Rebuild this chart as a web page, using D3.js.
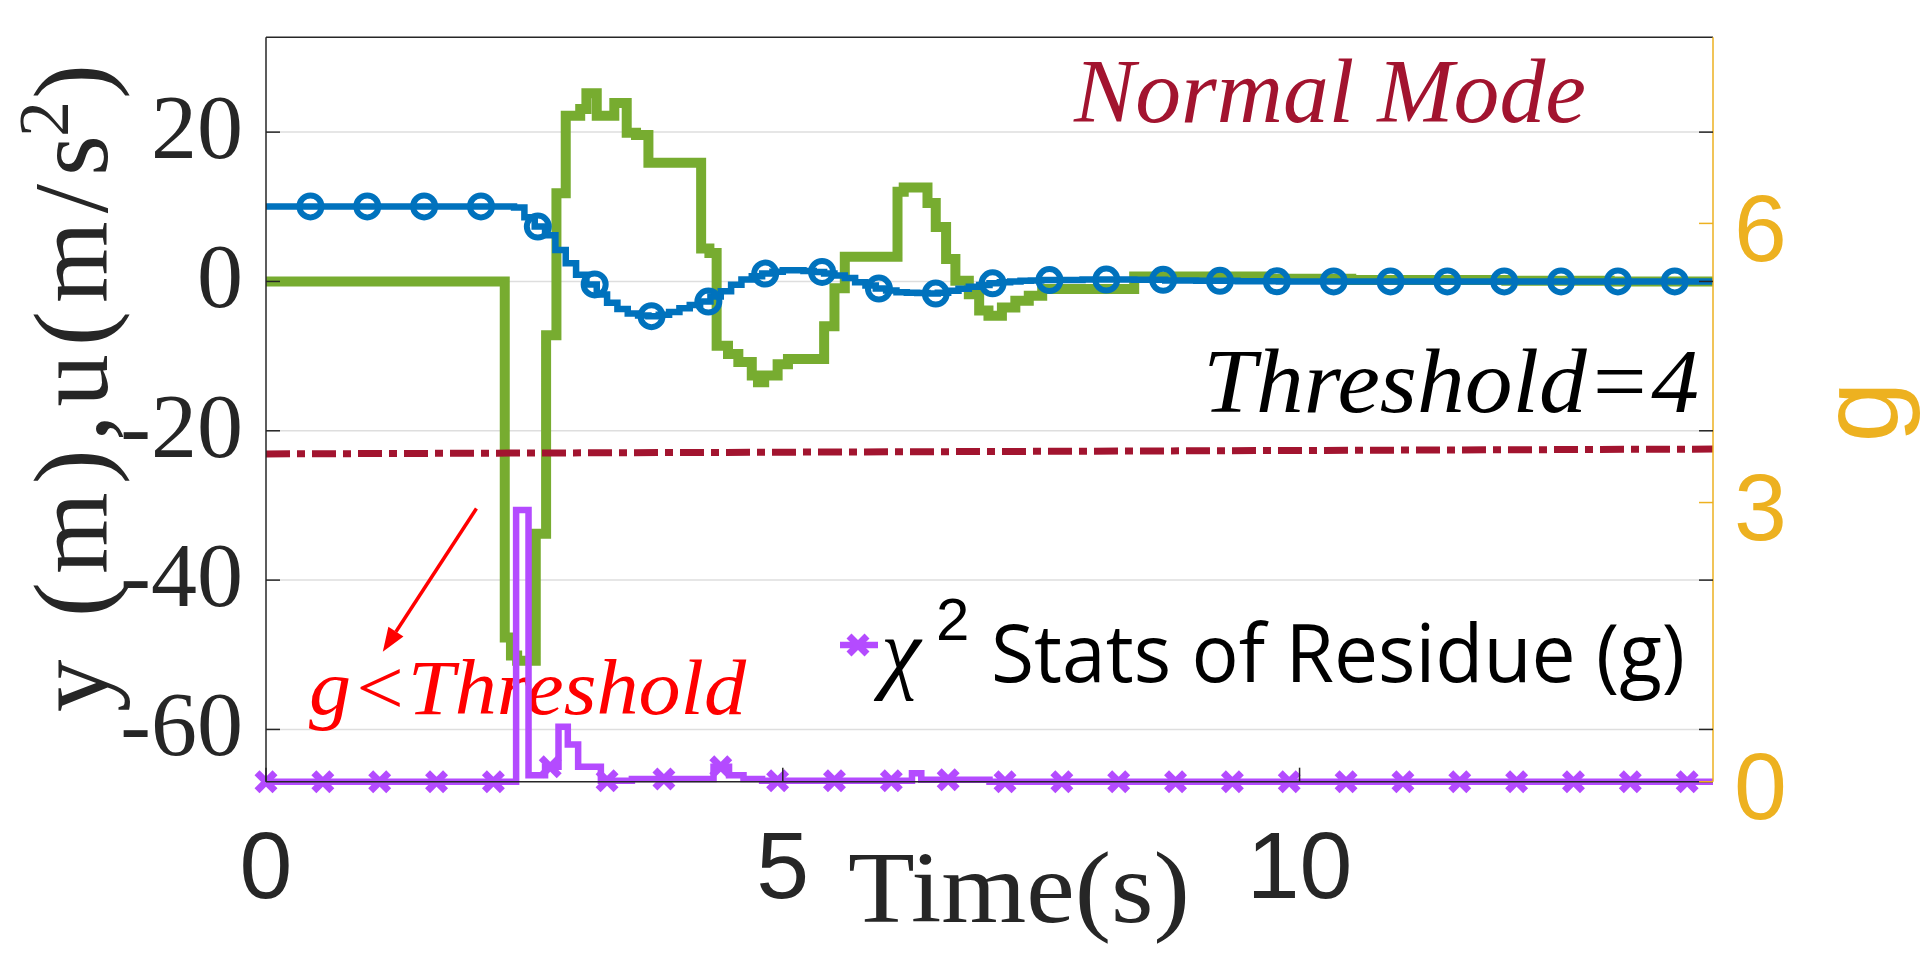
<!DOCTYPE html>
<html>
<head>
<meta charset="utf-8">
<script src="https://cdn.jsdelivr.net/npm/d3@7"></script>
<style>
  html, body { margin: 0; padding: 0; background: #fff; }
  svg { display: block; }
</style>
</head>
<body>
<svg id="chart" width="1920" height="955"></svg>
<script>
// ---------------- data ----------------
const xTicks = [0, 5, 10];
const leftTicks = [-60, -40, -20, 0, 20];
const rightTicks = [0, 3, 6];

// u (green) – control input, stairs: breakpoint times and values
const uT = [0, 2.31, 2.37, 2.43, 2.61, 2.71, 2.81, 2.9, 3.04, 3.1, 3.2, 3.37, 3.49, 3.58, 3.7, 4.21, 4.29, 4.36, 4.47, 4.57, 4.7, 4.76, 4.82, 4.95, 5.05, 5.4, 5.5, 5.6, 6.11, 6.17, 6.4, 6.48, 6.58, 6.67, 6.8, 6.9, 6.99, 7.12, 7.25, 7.38, 7.51, 8.4, 9.7, 10.5, 12, 13];
const uV = [0, -47.7, -50.1, -50.8, -33.8, -7.2, 11.8, 22.2, 23.1, 25.2, 22.2, 23.9, 19.9, 19.6, 15.9, 4.4, 3.8, -8.6, -9.7, -10.8, -12.6, -13.5, -12.6, -11.1, -10.4, -6.0, -0.9, 3.3, 12.0, 12.6, 10.5, 7.3, 3.0, 0.1, -1.7, -3.9, -4.6, -3.5, -2.6, -1.9, -1.0, 0.65, 0.35, 0.2, 0.1, 0];

// y (blue) – position, stairs
const yT = [0,2.4,2.5,2.6,2.7,2.8,2.9,3.0,3.1,3.2,3.3,3.4,3.5,3.6,3.7,3.8,3.9,4.0,4.1,4.2,4.3,4.4,4.5,4.6,4.7,4.8,4.9,5.0,5.2,5.3,5.4,5.5,5.6,5.7,5.8,5.9,6.0,6.1,6.2,6.3,6.4,6.5,6.6,6.7,6.8,6.9,7.0,7.1,7.2,7.3,7.4,7.5,7.6,7.9,8.4,8.7,9.0,9.4,9.8];
const yV = [10.05,9.9,8.6,7.35,6.2,4.2,2.45,0.9,-0.4,-1.75,-2.85,-3.7,-4.3,-4.55,-4.65,-4.45,-4.1,-3.6,-3.15,-2.7,-2.0,-1.3,-0.45,0.25,0.7,1.05,1.3,1.5,1.4,1.27,1.05,0.8,0.45,-0.1,-0.55,-0.95,-1.2,-1.44,-1.5,-1.56,-1.62,-1.5,-1.25,-0.97,-0.7,-0.47,-0.25,-0.1,0.0,0.1,0.13,0.18,0.2,0.25,0.22,0.13,0.08,0.02,0];
const yMarkerT = [0.43,0.98,1.53,2.08,2.63,3.18,3.73,4.28,4.83,5.38,5.93,6.48,7.03,7.58,8.13,8.68,9.23,9.78,10.33,10.88,11.43,11.98,12.53,13.08,13.63];

// g (purple) – chi-square statistic of residue, stairs (right axis)
const gT = [0, 2.42, 2.54, 2.70, 2.83, 2.92, 3.02, 3.24, 3.54, 4.33, 4.48, 4.62, 4.8, 6.25, 6.34, 7.0];
const gV = [0, 2.92, 0.07, 0.16, 0.59, 0.40, 0.16, 0.01, 0.03, 0.16, 0.07, 0.03, 0.01, 0.09, 0.02, 0.0];
const gMarkerT = [0,0.55,1.1,1.65,2.2,2.75,3.3,3.85,4.4,4.95,5.5,6.05,6.6,7.15,7.7,8.25,8.8,9.35,9.9,10.45,11.0,11.55,12.1,12.65,13.2,13.75];

// threshold line (left-axis units at t = 0 and t = 14)
const thresholdT = [0, 14];
const thresholdV = [-23.1, -22.45];

// annotation arrow (data units): from -> to
const arrowT = [2.036, 1.13];
const arrowV = [-30.4, -49.6];

const xDomain = [0, 14];
const leftDomain = [-67.0, 32.7];
const rightDomain = [0, 8];

// ---------------- layout ----------------
const L = 266, R = 1713, T = 37.3, B = 781.7;
const C = {
  blue: '#0072BD', green: '#77AC30', purple: '#B44BFF',
  red: '#A2142F', gold: '#EDB120', text: '#262626', grid: '#DEDEDE'
};

const svg = d3.select('#chart');
const x = d3.scaleLinear(xDomain, [L, R]);
const yL = d3.scaleLinear(leftDomain, [B, T]);
const yR = d3.scaleLinear(rightDomain, [B, T]);

function pts(Ts, Vs) {
  const p = Ts.map((t, i) => [t, Vs[i]]);
  p.push([xDomain[1], Vs[Vs.length - 1]]);
  return p;
}
function valAt(Ts, Vs, t) {
  const i = d3.bisectRight(Ts, t) - 1;
  return Vs[Math.max(0, i)];
}

// gridlines
svg.append('g').selectAll('line').data(leftTicks).join('line')
  .attr('x1', L).attr('x2', R)
  .attr('y1', d => yL(d)).attr('y2', d => yL(d))
  .attr('stroke', C.grid).attr('stroke-width', 1.5);

// annotation text (under lines)
svg.append('text').attr('x', 309).attr('y', 714)
  .attr('font-family', 'Liberation Serif').attr('font-style', 'italic')
  .attr('font-size', 78).attr('fill', '#FF0000')
  .attr('textLength', 437).attr('lengthAdjust', 'spacingAndGlyphs')
  .text('g<Threshold');

const stepL = d3.line().curve(d3.curveStepAfter).x(d => x(d[0])).y(d => yL(d[1]));
const stepR = d3.line().curve(d3.curveStepAfter).x(d => x(d[0])).y(d => yR(d[1]));

// green u
svg.append('path').attr('d', stepL(pts(uT, uV)))
  .attr('fill', 'none').attr('stroke', C.green).attr('stroke-width', 10)
  .attr('stroke-linejoin', 'miter');

// blue y
svg.append('path').attr('d', stepL(pts(yT, yV)))
  .attr('fill', 'none').attr('stroke', C.blue).attr('stroke-width', 6.5);
svg.append('g').selectAll('circle').data(yMarkerT).join('circle')
  .attr('cx', d => x(d)).attr('cy', d => yL(valAt(yT, yV, d)))
  .attr('r', 11).attr('fill', 'none').attr('stroke', C.blue).attr('stroke-width', 6);

// purple g
svg.append('path').attr('d', stepR(pts(gT, gV)))
  .attr('fill', 'none').attr('stroke', C.purple).attr('stroke-width', 6.5);
const xm = 9;
function xMarker(sel) {
  sel.append('path')
    .attr('d', `M${-xm},${-xm}L${xm},${xm}M${-xm},${xm}L${xm},${-xm}`)
    .attr('stroke', C.purple).attr('stroke-width', 7).attr('fill', 'none');
}
svg.append('g').selectAll('g').data(gMarkerT).join('g')
  .attr('transform', d => `translate(${x(d)},${yR(valAt(gT, gV, d))})`)
  .call(xMarker);

// threshold dash-dot
svg.append('line')
  .attr('x1', x(thresholdT[0])).attr('y1', yL(thresholdV[0]))
  .attr('x2', x(thresholdT[1])).attr('y2', yL(thresholdV[1]))
  .attr('stroke', C.red).attr('stroke-width', 7)
  .attr('stroke-dasharray', '24,7,8,7');

// arrow
{
  const x1 = x(arrowT[0]), y1 = yL(arrowV[0]), x2 = x(arrowT[1]), y2 = yL(arrowV[1]);
  const ang = Math.atan2(y2 - y1, x2 - x1);
  const hl = 24, hw = 9;
  const bx = x2 - hl * Math.cos(ang), by = y2 - hl * Math.sin(ang);
  svg.append('line').attr('x1', x1).attr('y1', y1).attr('x2', bx).attr('y2', by)
    .attr('stroke', '#FF0000').attr('stroke-width', 3.5);
  const px = -Math.sin(ang), py = Math.cos(ang);
  svg.append('path')
    .attr('d', `M${x2},${y2}L${bx + hw * px},${by + hw * py}L${bx - hw * px},${by - hw * py}Z`)
    .attr('fill', '#FF0000');
}

// axes frame
svg.append('line').attr('x1', L).attr('x2', R).attr('y1', T).attr('y2', T).attr('stroke', '#262626').attr('stroke-width', 1.5);
svg.append('line').attr('x1', L).attr('x2', R).attr('y1', B).attr('y2', B).attr('stroke', '#262626').attr('stroke-width', 1.5);
svg.append('line').attr('x1', L).attr('x2', L).attr('y1', T).attr('y2', B).attr('stroke', '#262626').attr('stroke-width', 1.5);
svg.append('line').attr('x1', R).attr('x2', R).attr('y1', T).attr('y2', B).attr('stroke', C.gold).attr('stroke-width', 1.5);

// ticks
const tk = 14;
svg.append('g').selectAll('line').data(leftTicks).join('line')
  .attr('x1', L).attr('x2', L + tk).attr('y1', d => yL(d)).attr('y2', d => yL(d))
  .attr('stroke', '#262626').attr('stroke-width', 1.5);
svg.append('g').selectAll('line').data(leftTicks).join('line')
  .attr('x1', R).attr('x2', R - tk).attr('y1', d => yL(d)).attr('y2', d => yL(d))
  .attr('stroke', '#262626').attr('stroke-width', 1.5);
svg.append('g').selectAll('line').data(rightTicks).join('line')
  .attr('x1', R).attr('x2', R - tk).attr('y1', d => yR(d)).attr('y2', d => yR(d))
  .attr('stroke', C.gold).attr('stroke-width', 1.5);
svg.append('g').selectAll('line').data(xTicks).join('line')
  .attr('x1', d => x(d)).attr('x2', d => x(d)).attr('y1', B).attr('y2', B - tk)
  .attr('stroke', '#262626').attr('stroke-width', 1.5);

// tick labels
svg.append('g').selectAll('text').data(leftTicks).join('text')
  .attr('x', 243).attr('y', d => yL(d) + 26)
  .attr('text-anchor', 'end')
  .attr('font-family', 'Liberation Serif').attr('font-size', 92).attr('fill', C.text)
  .text(d => d < 0 ? '-' + Math.abs(d) : String(d));
svg.append('g').selectAll('text').data(xTicks).join('text')
  .attr('x', d => x(d)).attr('y', 898)
  .attr('text-anchor', 'middle')
  .attr('font-family', 'Liberation Sans').attr('font-size', 95).attr('fill', C.text)
  .text(d => String(d));
svg.append('g').selectAll('text').data(rightTicks).join('text')
  .attr('x', 1734).attr('y', d => yR(d) + 37.5)
  .attr('font-family', 'Liberation Sans').attr('font-size', 95).attr('fill', C.gold)
  .text(d => String(d));

// axis labels
svg.append('text').attr('x', 848).attr('y', 921.7)
  .attr('font-family', 'Liberation Serif').attr('font-size', 101).attr('fill', C.text)
  .attr('textLength', 342).attr('lengthAdjust', 'spacingAndGlyphs')
  .text('Time(s)');

svg.append('text').attr('transform', 'translate(107,712) rotate(-90)')
  .attr('font-family', 'Liberation Serif').attr('font-size', 105).attr('fill', C.text)
  .attr('textLength', 577).attr('lengthAdjust', 'spacing')
  .text('y (m),u(m/s');
svg.append('text').attr('transform', 'translate(68,137) rotate(-90)')
  .attr('font-family', 'Liberation Serif').attr('font-size', 72).attr('fill', C.text)
  .text('2');
svg.append('text').attr('transform', 'translate(107,99) rotate(-90)')
  .attr('font-family', 'Liberation Serif').attr('font-size', 105).attr('fill', C.text)
  .text(')');

svg.append('text').attr('transform', 'translate(1897,412) rotate(-90)')
  .attr('text-anchor', 'middle')
  .attr('font-family', 'Liberation Sans').attr('font-size', 110).attr('fill', C.gold)
  .text('g');

// mode / threshold texts
svg.append('text').attr('x', 1074).attr('y', 122)
  .attr('font-family', 'Liberation Serif').attr('font-style', 'italic')
  .attr('font-size', 90).attr('fill', C.red)
  .attr('textLength', 512).attr('lengthAdjust', 'spacingAndGlyphs')
  .text('Normal Mode');
svg.append('text').attr('x', 1203).attr('y', 412)
  .attr('font-family', 'Liberation Serif').attr('font-style', 'italic')
  .attr('font-size', 90).attr('fill', '#000')
  .attr('textLength', 496).attr('lengthAdjust', 'spacingAndGlyphs')
  .text('Threshold=4');

// legend
const lg = svg.append('g');
lg.append('line').attr('x1', 840).attr('x2', 878).attr('y1', 645).attr('y2', 645)
  .attr('stroke', C.purple).attr('stroke-width', 6.5);
lg.append('g').attr('transform', 'translate(858,645)').call(xMarker);
lg.append('text').attr('x', 881).attr('y', 682)
  .attr('font-family', 'Liberation Serif').attr('font-style', 'italic')
  .attr('font-size', 90).attr('fill', '#000').text('χ');
lg.append('text').attr('x', 936).attr('y', 640)
  .attr('font-family', 'Liberation Sans').attr('font-size', 60).attr('fill', '#000').text('2');
lg.append('text').attr('x', 991).attr('y', 682)
  .attr('font-family', 'Open Sans').attr('font-size', 81).attr('fill', '#000')
  .attr('textLength', 694).attr('lengthAdjust', 'spacingAndGlyphs')
  .text('Stats of Residue (g)');
</script>
</body>
</html>
